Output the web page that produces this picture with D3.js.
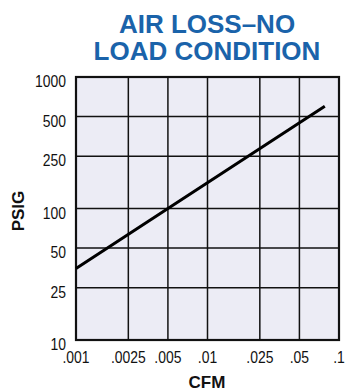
<!DOCTYPE html>
<html>
<head>
<meta charset="utf-8">
<script src="https://cdn.jsdelivr.net/npm/d3@7"></script>
<style>
  html, body { margin: 0; padding: 0; background: #fff; }
  svg { display: block; }
  .tick-label { font-family: "Liberation Sans", Arial, sans-serif; font-size: 17px; fill: #111; }
  .axis-title { font-family: "Liberation Sans", Arial, sans-serif; font-weight: bold; font-size: 17px; fill: #111; }
  .title { font-family: "Liberation Sans", Arial, sans-serif; font-weight: bold; font-size: 26px; fill: #1a63aa; }
</style>
</head>
<body>
<svg id="chart" width="345" height="391"></svg>
<script>
// Air loss curve, no load condition (log-log)
const titleLines = ["AIR LOSS\u2013NO", "LOAD CONDITION"];
const xTicks = [0.001, 0.0025, 0.005, 0.01, 0.025, 0.05, 0.1];
const xTickLabels = [".001", ".0025", ".005", ".01", ".025", ".05", ".1"];
const yTicks = [10, 25, 50, 100, 250, 500, 1000];
const yTickLabels = ["10", "25", "50", "100", "250", "500", "1000"];
const cfm = [0.001, 0.005, 0.078];
const psig = [35, 100, 600];
const xLabel = "CFM";
const yLabel = "PSIG";

const svg = d3.select("#chart");
const m = { left: 76, right: 339, top: 77, bottom: 340 };
const narrow = 0.82; // horizontal squeeze for condensed tick lettering

const x = d3.scaleLog().domain([0.001, 0.1]).range([m.left, m.right]);
const y = d3.scaleLog().domain([10, 1000]).range([m.bottom, m.top]);

// Title
svg.append("g").selectAll("text").data(titleLines).join("text")
  .attr("class", "title")
  .attr("x", 207)
  .attr("y", (d, i) => 33 + i * 27)
  .attr("text-anchor", "middle")
  .text(d => d);

// Plot background
svg.append("rect")
  .attr("x", m.left).attr("y", m.top)
  .attr("width", m.right - m.left).attr("height", m.bottom - m.top)
  .attr("fill", "#ececf5");

// Grid lines
const grid = svg.append("g").attr("stroke", "#111").attr("stroke-width", 1.5);
grid.selectAll("line.v").data(xTicks.slice(1, -1)).join("line")
  .attr("class", "v")
  .attr("x1", d => x(d)).attr("x2", d => x(d))
  .attr("y1", m.top).attr("y2", m.bottom);
grid.selectAll("line.h").data(yTicks.slice(1, -1)).join("line")
  .attr("class", "h")
  .attr("y1", d => y(d)).attr("y2", d => y(d))
  .attr("x1", m.left).attr("x2", m.right);

// Frame
svg.append("rect")
  .attr("x", m.left).attr("y", m.top)
  .attr("width", m.right - m.left).attr("height", m.bottom - m.top)
  .attr("fill", "none").attr("stroke", "#111").attr("stroke-width", 2.2);

// Data line
const pts = cfm.map((c, i) => [c, psig[i]]);
svg.append("path")
  .datum(pts)
  .attr("fill", "none")
  .attr("stroke", "#000")
  .attr("stroke-width", 3)
  .attr("d", d3.line().x(d => x(d[0])).y(d => y(d[1])));

// X tick labels
svg.append("g").selectAll("text").data(xTicks).join("text")
  .attr("class", "tick-label")
  .attr("transform", d => `translate(${x(d)},363) scale(${narrow},1)`)
  .attr("text-anchor", "middle")
  .text((d, i) => xTickLabels[i]);

// Y tick labels
svg.append("g").selectAll("text").data(yTicks).join("text")
  .attr("class", "tick-label")
  .attr("transform", d => `translate(66,${y(d) + 10}) scale(${narrow},1)`)
  .attr("text-anchor", "end")
  .text((d, i) => yTickLabels[i]);

// Axis titles
svg.append("text")
  .attr("class", "axis-title")
  .attr("x", 207).attr("y", 388)
  .attr("text-anchor", "middle")
  .text(xLabel);

svg.append("text")
  .attr("class", "axis-title")
  .attr("transform", "translate(24,211) rotate(-90)")
  .attr("text-anchor", "middle")
  .text(yLabel);
</script>
</body>
</html>
